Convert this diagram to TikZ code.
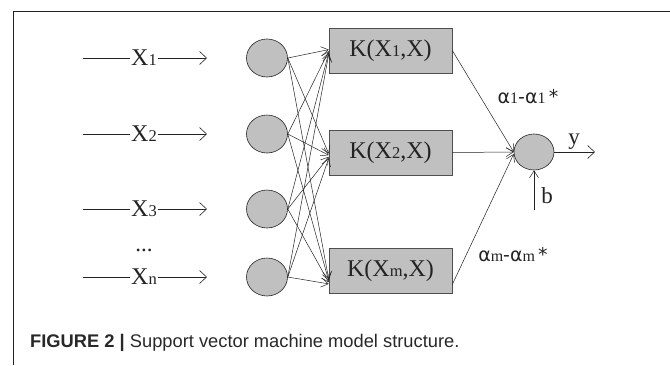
\documentclass[tikz,border=0pt]{standalone}
\usepackage{fontspec}
\setmainfont{Liberation Serif}
\newfontfamily\capfont{Liberation Sans}
\newfontfamily\alfont{DejaVu Sans}
\usetikzlibrary{arrows.meta,shapes.geometric}
\definecolor{lineclr}{RGB}{35,35,35}
\definecolor{boxgray}{RGB}{192,192,192}
\definecolor{captext}{RGB}{40,40,40}
\newcommand\smalldig[1]{{\fontsize{16.5}{16}\selectfont #1}}
\newcommand\aldig[1]{{\fontfamily{}\rmfamily\fontsize{16}{16}\selectfont #1}}
\begin{document}
\begin{tikzpicture}[x=1pt,y=-1pt,
  every node/.style={text=lineclr},
  neuron/.style={ellipse, draw=lineclr, fill=boxgray, line width=0.6pt, minimum width=41pt, minimum height=38pt, inner sep=0pt},
  outneuron/.style={neuron, minimum width=40pt, minimum height=36pt},
  kbox/.style={rectangle, draw=lineclr!80, fill=boxgray, line width=0.6pt, minimum width=123pt, minimum height=45pt, inner sep=0pt, font=\fontsize{24}{26}\selectfont},
  xlab/.style={inner sep=1pt, font=\fontsize{24}{26}\selectfont},
  plainline/.style={draw=lineclr, line width=0.6pt},
  inarr/.style={plainline, -{Straight Barb[length=7pt,width=13pt]}},
  fan/.style={draw=lineclr, line width=0.5pt, -{Straight Barb[length=7pt,width=9pt]}},
  allab/.style={inner sep=0pt, anchor=base, font=\alfont\fontsize{19}{22}\selectfont},
  serlab/.style={inner sep=0pt, anchor=base, font=\fontsize{23}{25}\selectfont}
]
\useasboundingbox (0,0) rectangle (670,365);
% frame
\draw[draw=lineclr, line width=0.9pt] (13,365) -- (13,11) -- (670,11);

% inputs
\foreach \i/\yy/\lab in {1/58/X\smalldig{1}, 2/134/X\smalldig{2}, 3/209/X\smalldig{3}, 4/277/X\smalldig{n}} {
  \coordinate (s\i) at (83,\yy);
  \coordinate (e\i) at (207,\yy);
  \node[xlab] (x\i) at (144,\yy) {\lab};
  \draw[plainline] (s\i) -- (x\i.west);
  \draw[inarr] (x\i.east) -- (e\i);
  \node[neuron] (c\i) at (267,\yy) {};
}
\node[serlab] (dots) at (144,251) {...};

% kernel boxes
\node[kbox] (k1) at (390.5,50.5) {K(X\smalldig{1},X)};
\node[kbox] (k2) at (390.5,152.5) {K(X\smalldig{2},X)};
\node[kbox] (km) at (390.5,270.5) {K(X\smalldig{m},X)};

% fan connections
\foreach \i in {1,2,3,4} {
  \pgfmathsetmacro{\off}{(\i-2.5)*1.6}
  \draw[fan] (c\i.east) -- ([yshift={-1.5pt-\off pt}]k1.west);
  \draw[fan] (c\i.east) -- ([yshift={-3.5pt-\off pt}]k2.west);
  \draw[fan] (c\i.east) -- ([yshift={-11pt-\off pt}]km.west);
}

% output neuron
\node[outneuron] (o) at (534,152) {};
\draw[fan] (k1.east) -- (o.west);
\draw[fan] (k2.east) -- (o.west);
\draw[fan] ([yshift=-14pt]km.east) -- ([yshift=-2pt]o.west);

\coordinate (yend) at (595,152);
\draw[inarr] (o.east) -- (yend);
\node[serlab] (ylab) at (574,144) {y};
\coordinate (bstart) at (534,210);
\draw[fan] (bstart) -- (o.south);
\node[serlab] (blab) at (547,203) {b};

\node[allab] (a1) at (528,103) {α\aldig{1}-α\aldig{1}\,*};
\node[allab] (am) at (513,261) {α\aldig{m}-α\aldig{m}\,*};

% caption
\node[anchor=base west, inner sep=0pt, text=captext, font=\capfont\fontsize{18.3}{20}\selectfont] (cap) at (30,347) {\textbf{FIGURE 2 |} Support vector machine model structure.};
\end{tikzpicture}
\end{document}
